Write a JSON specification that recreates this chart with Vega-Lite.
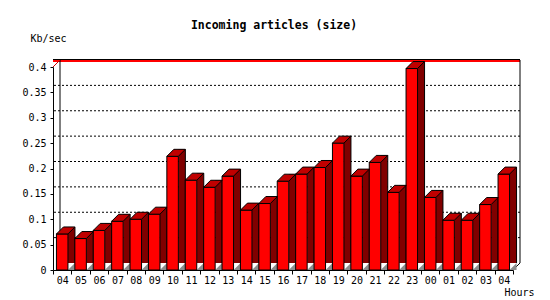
{
  "$schema": "https://vega.github.io/schema/vega-lite/v6.json",
  "autosize": "none",
  "width": 460,
  "height": 203,
  "padding": {"left": 53, "top": 67, "right": 37, "bottom": 30},
  "background": "white",
  "config": {
    "view": {"stroke": null},
    "font": "DejaVu Sans Mono",
    "axis": {
      "labelOverlap": false, "labelFlush": false, "grid": false,
      "tickColor": "black", "domainColor": "black",
      "labelFont": "DejaVu Sans Mono", "labelFontSize": 10, "labelColor": "black",
      "titleFont": "DejaVu Sans Mono", "titleFontSize": 10, "titleFontWeight": "normal", "titleColor": "black"
    },
    "axisX": {"labelAngle": 0, "labelAlign": "center", "tickSize": 4, "labelPadding": 9, "labelBaseline": "alphabetic", "tickBand": "extent"},
    "axisY": {"tickSize": 3, "labelPadding": 4}
  },
  "title": {"text": "Incoming articles (size)", "font": "DejaVu Sans Mono", "fontSize": 11.5, "fontWeight": "bold", "color": "black", "anchor": "middle", "dx": -9, "offset": 2},
  "datasets": {
    "bars": [
      {"hour": "04", "v": 0.071}, {"hour": "05", "v": 0.062}, {"hour": "06", "v": 0.078},
      {"hour": "07", "v": 0.096}, {"hour": "08", "v": 0.1}, {"hour": "09", "v": 0.11},
      {"hour": "10", "v": 0.224}, {"hour": "11", "v": 0.177}, {"hour": "12", "v": 0.163},
      {"hour": "13", "v": 0.185}, {"hour": "14", "v": 0.118}, {"hour": "15", "v": 0.131},
      {"hour": "16", "v": 0.175}, {"hour": "17", "v": 0.189}, {"hour": "18", "v": 0.202},
      {"hour": "19", "v": 0.25}, {"hour": "20", "v": 0.185}, {"hour": "21", "v": 0.212},
      {"hour": "22", "v": 0.153}, {"hour": "23", "v": 0.397}, {"hour": "00", "v": 0.143},
      {"hour": "01", "v": 0.098}, {"hour": "02", "v": 0.098}, {"hour": "03", "v": 0.129},
      {"hour": "04 ", "v": 0.189}
    ],
    "grid": [{"g": 0.05}, {"g": 0.1}, {"g": 0.15}, {"g": 0.2}, {"g": 0.25}, {"g": 0.3}, {"g": 0.35}]
  },
  "layer": [
    {
      "data": {"name": "grid"},
      "mark": {"type": "rule", "color": "black", "strokeDash": [2, 2], "xOffset": 7, "x2Offset": 7, "yOffset": -7, "y2Offset": -7},
      "encoding": {
        "y": {
          "field": "g", "type": "quantitative",
          "scale": {"domain": [0, 0.4], "nice": false, "zero": true},
          "axis": {"title": "Kb/sec", "values": [0, 0.05, 0.1, 0.15, 0.2, 0.25, 0.3, 0.35, 0.4], "format": "~g", "titleAngle": 0, "titleAlign": "left", "titleBaseline": "alphabetic", "titleX": -23, "titleY": -26}
        }
      }
    },
    {
      "data": {"name": "bars"},
      "mark": {"type": "rule", "color": "black", "xOffset": 7, "x2Offset": 7, "yOffset": -7, "y2Offset": -7},
      "encoding": {"y": {"datum": 0.4, "type": "quantitative", "axis": {"title": "Kb/sec", "values": [0, 0.05, 0.1, 0.15, 0.2, 0.25, 0.3, 0.35, 0.4], "format": "~g", "titleAngle": 0, "titleAlign": "left", "titleBaseline": "alphabetic", "titleX": -23, "titleY": -26}}}
    },
    {
      "data": {"name": "bars"},
      "mark": {"type": "rule", "color": "#ff0000", "xOffset": 7, "x2Offset": 7, "yOffset": -6, "y2Offset": -6},
      "encoding": {"y": {"datum": 0.4, "type": "quantitative", "axis": {"title": "Kb/sec", "values": [0, 0.05, 0.1, 0.15, 0.2, 0.25, 0.3, 0.35, 0.4], "format": "~g", "titleAngle": 0, "titleAlign": "left", "titleBaseline": "alphabetic", "titleX": -23, "titleY": -26}}}
    },
    {
      "data": {"name": "bars"},
      "transform": [{"filter": {"field": "hour", "equal": "04"}}],
      "mark": {"type": "rule", "color": "black", "xOffset": -2.2, "yOffset": -7, "y2Offset": -7},
      "encoding": {
        "x": {
          "field": "hour", "type": "nominal", "sort": null,
          "scale": {"domain": ["04","05","06","07","08","09","10","11","12","13","14","15","16","17","18","19","20","21","22","23","00","01","02","03","04 "], "paddingInner": 0, "paddingOuter": 0},
          "axis": {"title": "Hours", "labelExpr": "trim(datum.label)", "titleAnchor": null, "titleAlign": "right", "titleBaseline": "alphabetic", "titleX": 481, "titleY": 25}
        },
        "y": {"datum": 0.4, "type": "quantitative", "axis": {"title": "Kb/sec", "values": [0, 0.05, 0.1, 0.15, 0.2, 0.25, 0.3, 0.35, 0.4], "format": "~g", "titleAngle": 0, "titleAlign": "left", "titleBaseline": "alphabetic", "titleX": -23, "titleY": -26}},
        "y2": {"datum": 0}
      }
    },
    {
      "data": {"name": "bars"},
      "transform": [{"filter": {"field": "hour", "equal": "04 "}}],
      "mark": {"type": "rule", "color": "black", "xOffset": 16.2, "yOffset": -7, "y2Offset": -7},
      "encoding": {
        "x": {"field": "hour", "type": "nominal", "axis": {"title": "Hours", "labelExpr": "trim(datum.label)", "titleAnchor": null, "titleAlign": "right", "titleBaseline": "alphabetic", "titleX": 481, "titleY": 25}},
        "y": {"datum": 0.4, "type": "quantitative", "axis": {"title": "Kb/sec", "values": [0, 0.05, 0.1, 0.15, 0.2, 0.25, 0.3, 0.35, 0.4], "format": "~g", "titleAngle": 0, "titleAlign": "left", "titleBaseline": "alphabetic", "titleX": -23, "titleY": -26}},
        "y2": {"datum": 0}
      }
    },
    {
      "data": {"name": "bars"},
      "transform": [{"filter": {"field": "hour", "equal": "04"}}],
      "mark": {"type": "point", "shape": "M -1 1 L 1 -1", "size": 49, "filled": false, "stroke": "#cc0000", "strokeWidth": 1, "opacity": 1, "xOffset": -5.7, "yOffset": -3.5},
      "encoding": {
        "x": {"field": "hour", "type": "nominal", "axis": {"title": "Hours", "labelExpr": "trim(datum.label)", "titleAnchor": null, "titleAlign": "right", "titleBaseline": "alphabetic", "titleX": 481, "titleY": 25}},
        "y": {"datum": 0.4, "type": "quantitative", "axis": {"title": "Kb/sec", "values": [0, 0.05, 0.1, 0.15, 0.2, 0.25, 0.3, 0.35, 0.4], "format": "~g", "titleAngle": 0, "titleAlign": "left", "titleBaseline": "alphabetic", "titleX": -23, "titleY": -26}}
      }
    },
    {
      "data": {"name": "bars"},
      "transform": [{"filter": {"field": "hour", "equal": "04 "}}],
      "mark": {"type": "point", "shape": "M -1 1 L 1 -1", "size": 49, "filled": false, "stroke": "black", "strokeWidth": 1, "opacity": 1, "xOffset": 12.7, "yOffset": -3.5},
      "encoding": {
        "x": {"field": "hour", "type": "nominal", "axis": {"title": "Hours", "labelExpr": "trim(datum.label)", "titleAnchor": null, "titleAlign": "right", "titleBaseline": "alphabetic", "titleX": 481, "titleY": 25}},
        "y": {"datum": 0, "type": "quantitative", "axis": {"title": "Kb/sec", "values": [0, 0.05, 0.1, 0.15, 0.2, 0.25, 0.3, 0.35, 0.4], "format": "~g", "titleAngle": 0, "titleAlign": "left", "titleBaseline": "alphabetic", "titleX": -23, "titleY": -26}}
      }
    },
    {
      "data": {"name": "bars"},
      "mark": {"type": "bar", "width": 7, "xOffset": 9.25, "yOffset": -7, "y2Offset": 0, "fill": "#800000", "stroke": null},
      "encoding": {
        "x": {"field": "hour", "type": "nominal", "axis": {"title": "Hours", "labelExpr": "trim(datum.label)", "titleAnchor": null, "titleAlign": "right", "titleBaseline": "alphabetic", "titleX": 481, "titleY": 25}},
        "y": {"field": "v", "type": "quantitative", "axis": {"title": "Kb/sec", "values": [0, 0.05, 0.1, 0.15, 0.2, 0.25, 0.3, 0.35, 0.4], "format": "~g", "titleAngle": 0, "titleAlign": "left", "titleBaseline": "alphabetic", "titleX": -23, "titleY": -26}}
      }
    },
    {
      "data": {"name": "bars"},
      "mark": {"type": "rule", "color": "black", "xOffset": 12.75, "yOffset": -7, "y2Offset": -7},
      "encoding": {
        "x": {"field": "hour", "type": "nominal", "axis": {"title": "Hours", "labelExpr": "trim(datum.label)", "titleAnchor": null, "titleAlign": "right", "titleBaseline": "alphabetic", "titleX": 481, "titleY": 25}},
        "y": {"field": "v", "type": "quantitative", "axis": {"title": "Kb/sec", "values": [0, 0.05, 0.1, 0.15, 0.2, 0.25, 0.3, 0.35, 0.4], "format": "~g", "titleAngle": 0, "titleAlign": "left", "titleBaseline": "alphabetic", "titleX": -23, "titleY": -26}},
        "y2": {"datum": 0}
      }
    },
    {
      "data": {"name": "bars"},
      "mark": {"type": "point", "shape": "M -1 1 L 1 -1 L 1 1 Z", "size": 49, "filled": true, "fill": "#8c8c8c", "stroke": null, "opacity": 1, "xOffset": 9.25, "yOffset": -3.5},
      "encoding": {
        "x": {"field": "hour", "type": "nominal", "axis": {"title": "Hours", "labelExpr": "trim(datum.label)", "titleAnchor": null, "titleAlign": "right", "titleBaseline": "alphabetic", "titleX": 481, "titleY": 25}},
        "y": {"datum": 0, "type": "quantitative", "axis": {"title": "Kb/sec", "values": [0, 0.05, 0.1, 0.15, 0.2, 0.25, 0.3, 0.35, 0.4], "format": "~g", "titleAngle": 0, "titleAlign": "left", "titleBaseline": "alphabetic", "titleX": -23, "titleY": -26}}
      }
    },
    {
      "data": {"name": "bars"},
      "mark": {"type": "bar", "width": 11.5, "fill": "#ff0000", "stroke": "black", "strokeWidth": 1},
      "encoding": {
        "x": {"field": "hour", "type": "nominal", "axis": {"title": "Hours", "labelExpr": "trim(datum.label)", "titleAnchor": null, "titleAlign": "right", "titleBaseline": "alphabetic", "titleX": 481, "titleY": 25}},
        "y": {"field": "v", "type": "quantitative", "axis": {"title": "Kb/sec", "values": [0, 0.05, 0.1, 0.15, 0.2, 0.25, 0.3, 0.35, 0.4], "format": "~g", "titleAngle": 0, "titleAlign": "left", "titleBaseline": "alphabetic", "titleX": -23, "titleY": -26}}
      }
    },
    {
      "data": {"name": "bars"},
      "mark": {"type": "point", "shape": "M -1 0.3784 L 0.2432 0.3784 L 1 -0.3784 L -0.2432 -0.3784 Z", "size": 342.25, "filled": true, "fill": "#c00000", "stroke": "black", "strokeWidth": 1, "opacity": 1, "xOffset": 3.5, "yOffset": -3.5},
      "encoding": {
        "x": {"field": "hour", "type": "nominal", "axis": {"title": "Hours", "labelExpr": "trim(datum.label)", "titleAnchor": null, "titleAlign": "right", "titleBaseline": "alphabetic", "titleX": 481, "titleY": 25}},
        "y": {"field": "v", "type": "quantitative", "axis": {"title": "Kb/sec", "values": [0, 0.05, 0.1, 0.15, 0.2, 0.25, 0.3, 0.35, 0.4], "format": "~g", "titleAngle": 0, "titleAlign": "left", "titleBaseline": "alphabetic", "titleX": -23, "titleY": -26}}
      }
    }
  ]
}
